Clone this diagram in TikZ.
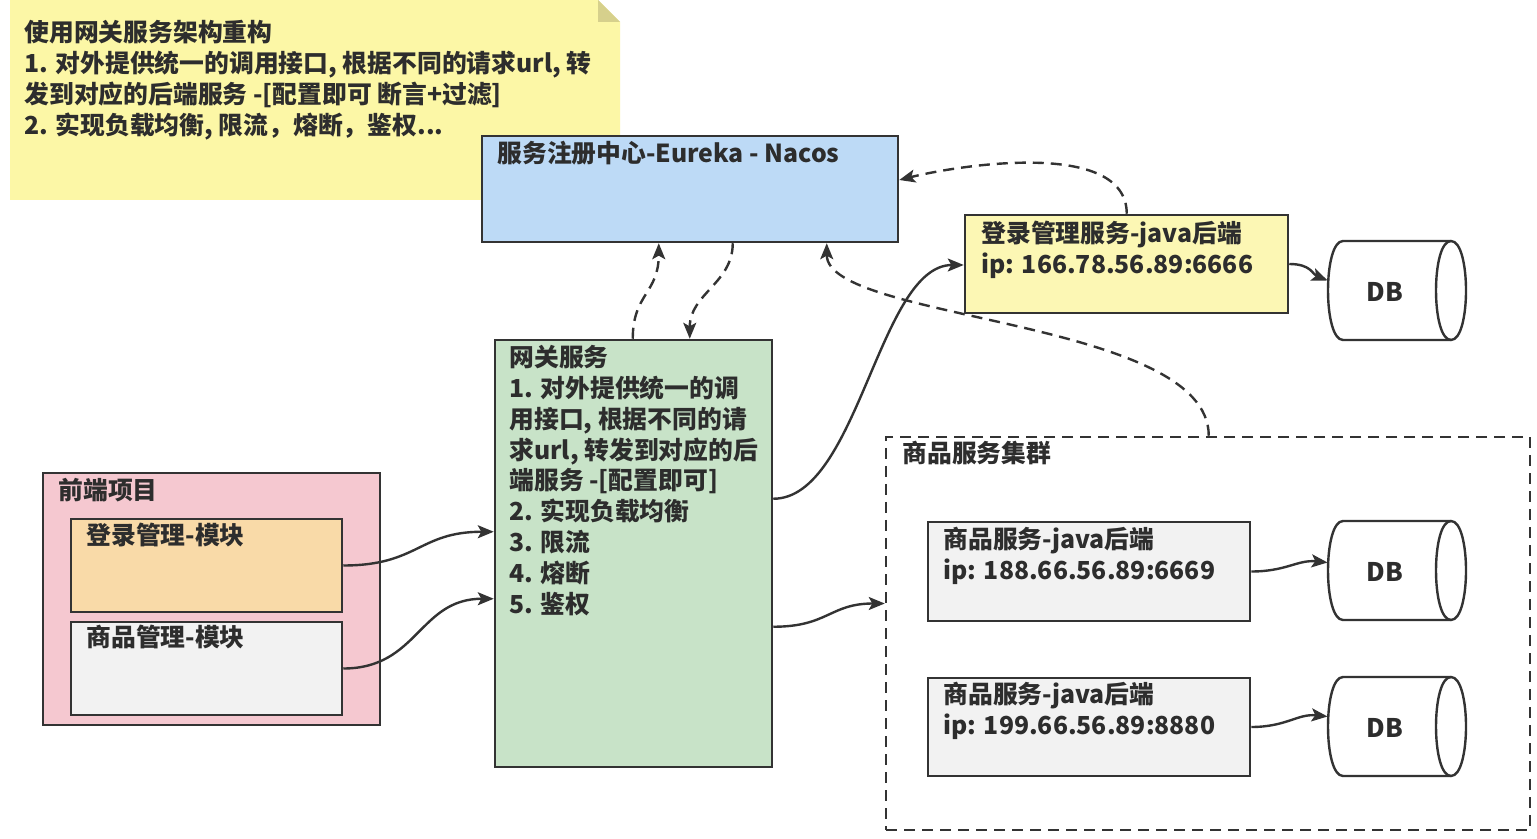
\documentclass[tikz,border=0pt]{standalone}
\usepackage{fontspec}
\setmainfont{Noto Sans CJK SC}
\usetikzlibrary{arrows.meta,calc,fit}
\definecolor{stroke}{RGB}{51,51,51}
\definecolor{txt}{RGB}{45,45,45}
\definecolor{notefill}{RGB}{252,247,166}
\definecolor{notefold}{RGB}{214,208,140}
\definecolor{regfill}{RGB}{189,218,246}
\definecolor{loginfill}{RGB}{252,247,180}
\definecolor{gwfill}{RGB}{200,227,200}
\definecolor{fefill}{RGB}{245,200,208}
\definecolor{lmfill}{RGB}{249,218,168}
\definecolor{grayfill}{RGB}{242,242,242}
\newcommand{\dbshape}[2]{%
  \node[inner sep=0pt, fit={(1328,#2)(1466,#2+99)}] (#1) {};
  \filldraw[fill=white, draw=stroke, line width=1.2pt]
    (1343,#2) -- (1451,#2) .. controls (1471,#2) and (1471,#2+99) .. (1451,#2+99)
    -- (1343,#2+99) .. controls (1323,#2+99) and (1323,#2) .. (1343,#2) -- cycle;
  \draw[draw=stroke, line width=1.2pt] (1451,#2) .. controls (1431,#2) and (1431,#2+99) .. (1451,#2+99);
  \node[dbl] (#1t) at (1385,#2+51) {DB};
}
\begin{document}
\begin{tikzpicture}[x=0.5pt,y=-0.5pt,
  box/.style={draw=stroke, line width=1.25pt, inner sep=0pt},
  lbl/.style={anchor=north west, inner sep=0pt, align=left, text=txt,
    font=\fontsize{12.4pt}{15.4pt}\selectfont\bfseries},
  dbl/.style={inner sep=0pt, text=txt, font=\fontsize{12.8pt}{15pt}\selectfont\bfseries},
  conn/.style={line width=1.2pt, draw=stroke, -{Stealth[length=8pt,width=6.5pt,inset=1.8pt]}},
  dconn/.style={conn, dash pattern=on 5.5pt off 3.5pt}]
\useasboundingbox (0,0) rectangle (1537,839);
\fill[white] (0,0) rectangle (1537,839);
% note
\node[inner sep=0pt, fit={(10,0)(620,200)}] (note) {};
\fill[notefill] (10,0) -- (598,0) -- (620,22) -- (620,200) -- (10,200) -- cycle;
\fill[notefold] (598,0) -- (598,22) -- (620,22) -- cycle;
\node[lbl] (notetext) at (24,20) {使用网关服务架构重构\\1. 对外提供统一的调用接口, 根据不同的请求url, 转\\发到对应的后端服务 -[配置即可 断言+过滤]\\2. 实现负载均衡, 限流，熔断，鉴权...};
% registry
\node[box, fill=regfill, fit={(482,136)(898,242)}] (reg) {};
\node[lbl] (regtext) at (497,141) {服务注册中心-Eureka - Nacos};
% login service
\node[box, fill=loginfill, fit={(965,215)(1288,313)}] (login) {};
\node[lbl] (logintext) at (981,221) {登录管理服务-java后端\\ip: 166.78.56.89:6666};
\dbshape{db1}{241}
% gateway
\node[box, fill=gwfill, fit={(495,340)(772,767)}] (gw) {};
\node[lbl] (gwtext) at (509,345) {网关服务\\1. 对外提供统一的调\\用接口, 根据不同的请\\求url, 转发到对应的后\\端服务 -[配置即可]\\2. 实现负载均衡\\3. 限流\\4. 熔断\\5. 鉴权};
% frontend
\node[box, fill=fefill, fit={(43,473)(380,725)}] (fe) {};
\node[lbl] (fetext) at (58,478) {前端项目};
\node[box, fill=lmfill, fit={(71,519)(342,612)}] (lm) {};
\node[lbl] (lmtext) at (86,523) {登录管理-模块};
\node[box, fill=grayfill, fit={(71,622)(342,715)}] (gm) {};
\node[lbl] (gmtext) at (86,625) {商品管理-模块};
% cluster
\node[box, dash pattern=on 5.5pt off 3.5pt, fit={(886,437)(1530,830)}] (cluster) {};
\node[lbl] (clustertext) at (902,441) {商品服务集群};
\node[box, fill=grayfill, fit={(928,522)(1250,621)}] (gs1) {};
\node[lbl] (gs1text) at (943,527) {商品服务-java后端\\ip: 188.66.56.89:6669};
\dbshape{db2}{521}
\node[box, fill=grayfill, fit={(928,678)(1250,776)}] (gs2) {};
\node[lbl] (gs2text) at (943,682) {商品服务-java后端\\ip: 199.66.56.89:8880};
\dbshape{db3}{677}
% connectors
\draw[dconn] ($(gw.north west)+(139,0)$) .. controls +(0,-45) and +(0,50) .. ($(reg.south west)+(178,0)$);
\draw[dconn] ($(reg.south west)+(252,0)$) .. controls +(0,40) and +(0,-45) .. ($(gw.north west)+(196,0)$);
\draw[dconn] ($(login.north west)+(163,0)$) .. controls +(0,-75) and +(60,-15) .. ($(reg.east)+(0,-9)$);
\draw[dconn] ($(cluster.north west)+(324,0)$) .. controls +(0,-117) and +(0,78) .. ($(reg.south west)+(346,0)$);
\draw[conn] ($(gw.north east)+(0,160)$) .. controls +(85,0) and +(-85,0) .. ($(login.west)+(0,1)$);
\draw[conn] ($(gw.north east)+(0,288)$) .. controls +(55,0) and +(-55,0) .. ($(cluster.west)+(0,-30)$);
\draw[conn] (lm.east) .. controls +(75,0) and +(-75,0) .. ($(gw.north west)+(0,193)$);
\draw[conn] (gm.east) .. controls +(75,0) and +(-75,0) .. ($(gw.north west)+(0,260)$);
\draw[conn] (login.east) .. controls +(22,0) and +(-15,-6) .. ($(db1.west)+(0,-10)$);
\draw[conn] (gs1.east) .. controls +(35,0) and +(-30,-3) .. ($(db2.west)+(0,-8)$);
\draw[conn] (gs2.east) .. controls +(35,0) and +(-30,-3) .. ($(db3.west)+(0,-10)$);
\end{tikzpicture}
\end{document}
